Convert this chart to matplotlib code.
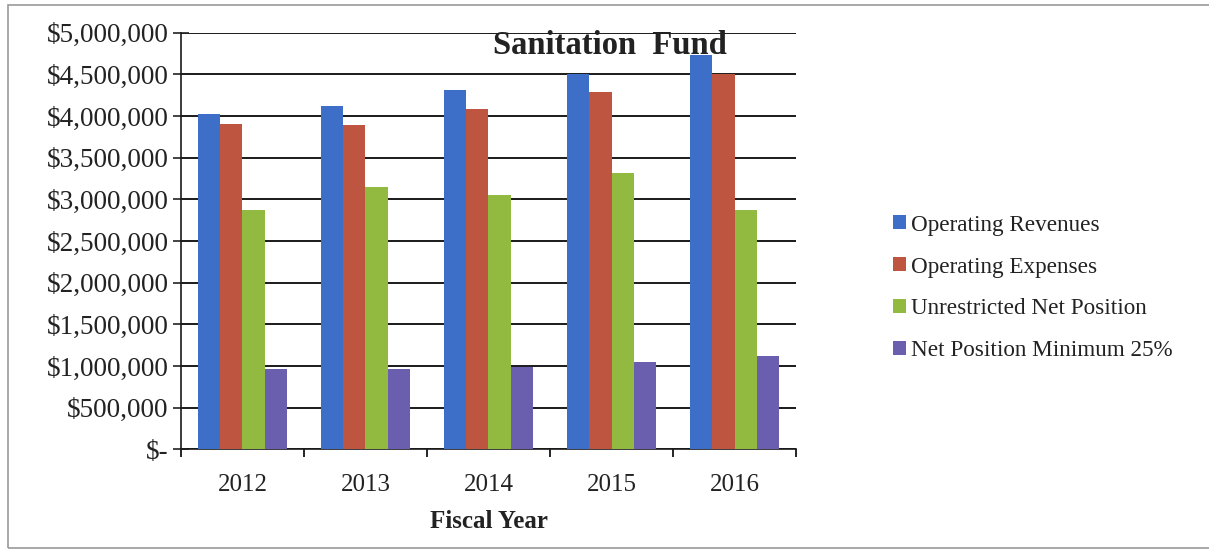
import matplotlib.pyplot as plt
import matplotlib.patches as patches
import numpy as np
from matplotlib.ticker import FuncFormatter, MultipleLocator

# Sanitation fund figures by fiscal year
years = ['2012', '2013', '2014', '2015', '2016']
operating_revenues = [4020000, 4120000, 4310000, 4500000, 4730000]
operating_expenses = [3900000, 3890000, 4080000, 4290000, 4500000]
unrestricted_net_position = [2870000, 3150000, 3055000, 3320000, 2870000]
net_position_min_25 = [965000, 965000, 990000, 1050000, 1120000]

series_names = ['Operating Revenues', 'Operating Expenses',
                'Unrestricted Net Position', 'Net Position Minimum 25%']
series_values = [operating_revenues, operating_expenses,
                 unrestricted_net_position, net_position_min_25]
colors = ['#3D6FC8', '#BE5541', '#93BA40', '#6A5FAE']

plt.rcParams['font.family'] = ['Liberation Serif', 'DejaVu Serif']

fig = plt.figure(figsize=(12.09, 5.52), dpi=100)
ax = fig.add_axes([0.1497, 0.1857, 0.5087, 0.7554])

# outer frame around the whole chart
fig.patches.append(patches.Rectangle((8 / 1209, 4 / 552), 1.02, 1 - 9 / 552,
                                     transform=fig.transFigure, fill=False,
                                     edgecolor='#9a9a9a', linewidth=1.2))

x = np.arange(len(years))
bar_w = 0.18
for j, (name, vals, c) in enumerate(zip(series_names, series_values, colors)):
    ax.bar(x + (j - 1.5) * bar_w, vals, width=bar_w, color=c, label=name, zorder=3)

ax.set_xlim(-0.5, len(years) - 0.5)
ax.set_ylim(0, 5000000)
ax.yaxis.set_major_locator(MultipleLocator(500000))
ax.yaxis.set_major_formatter(FuncFormatter(
    lambda v, p: '$-' if v == 0 else '${:,.0f}'.format(v)))
ax.grid(axis='y', color='#1a1a1a', linewidth=1.4, zorder=1)

ax.set_xticks(x)
ax.set_xticklabels(years)
ax.set_xticks(np.arange(-0.5, len(years)), minor=True)
ax.tick_params(axis='x', which='major', length=0, labelsize=18, pad=18,
               colors='#222222')
ax.tick_params(axis='x', which='minor', length=6, width=1.2, direction='out')
ax.tick_params(axis='y', length=12, width=1.2, direction='inout', labelsize=19.5,
               pad=3, colors='#222222')

for s in ['top', 'right']:
    ax.spines[s].set_visible(False)
for s in ['left', 'bottom']:
    ax.spines[s].set_linewidth(1.2)
    ax.spines[s].set_color('#1a1a1a')

ax.set_xlabel('Fiscal Year', fontsize=18, fontweight='bold', labelpad=10,
              color='#222222')

fig.text(610 / 1209, 1 - 46 / 552, 'Sanitation  Fund', fontsize=23.5,
         fontweight='bold', ha='center', va='center', color='#222222')

ax.legend(loc='center left', bbox_to_anchor=(872 / 1209, 1 - 288 / 552),
          bbox_transform=fig.transFigure, frameon=False, fontsize=16.7,
          handlelength=0.55, handleheight=0.55, handletextpad=0.25,
          labelspacing=0.9, labelcolor='#222222')

fig.savefig('out.png', dpi=100, facecolor='white')
